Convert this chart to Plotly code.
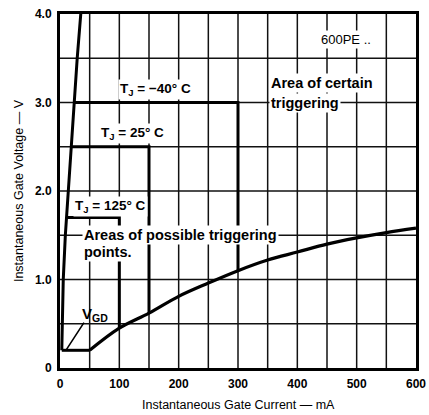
import plotly.graph_objects as go

# ---- axes ----
current_ticks = [0, 100, 200, 300, 400, 500, 600]
current_labels = ["0", "100", "200", "300", "400", "500", "600"]
voltage_ticks = [0, 1.0, 2.0, 3.0, 4.0]
voltage_labels = ["0", "1.0", "2.0", "3.0", "4.0"]
current_grid = [50, 100, 150, 200, 250, 300, 350, 400, 450, 500, 550]
voltage_grid = [0.5, 1.0, 1.5, 2.0, 2.5, 3.0, 3.5]

# ---- V_GD (non-trigger gate voltage) ----
vgd_current = [3, 50]
vgd_voltage = [0.2, 0.2]

# ---- lower boundary of possible triggering ----
min_curve_current = [50, 100, 150, 200, 250, 300, 350, 400, 450, 500, 550, 600]
min_curve_voltage = [0.2, 0.45, 0.62, 0.81, 0.96, 1.10, 1.22, 1.31, 1.40, 1.47, 1.53, 1.58]

# ---- left (steep) boundary ----
left_current = [3, 4, 5.5, 9, 14, 18, 23.5, 29, 35]
left_voltage = [0.2, 0.5, 1.0, 1.5, 2.0, 2.5, 3.0, 3.5, 4.0]

# ---- junction temperature limits ----
tj_names = ["−40°C", "25°C", "125°C"]
tj_gate_voltage = [3.0, 2.5, 1.7]
tj_start_current = [23.5, 18, 12]
tj_max_current = [300, 150, 100]
tj_end_voltage = [1.10, 0.62, 0.45]

FONT = "Liberation Sans"
LINE = dict(color="black", width=3)

fig = go.Figure()

# grid drawn as a thin line trace built from the grid arrays
gx, gy = [], []
for c in current_grid:
    gx += [c, c, None]
    gy += [0, 4, None]
for v in voltage_grid:
    gx += [0, 600, None]
    gy += [v, v, None]
fig.add_trace(go.Scatter(x=gx, y=gy, mode="lines", line=dict(color="#111111", width=1.5),
                         showlegend=False, hoverinfo="skip", connectgaps=False))

fig.add_trace(go.Scatter(x=left_current, y=left_voltage, mode="lines",
                         line=LINE, showlegend=False, hoverinfo="skip"))
fig.add_trace(go.Scatter(x=vgd_current, y=vgd_voltage, mode="lines",
                         line=LINE, showlegend=False, hoverinfo="skip"))
fig.add_trace(go.Scatter(x=min_curve_current, y=min_curve_voltage, mode="lines",
                         line=dict(color="black", width=3.2, shape="spline"),
                         showlegend=False, hoverinfo="skip"))

for name, v, i0, i1, v1 in zip(tj_names, tj_gate_voltage, tj_start_current,
                               tj_max_current, tj_end_voltage):
    fig.add_trace(go.Scatter(x=[i0, i1, i1], y=[v, v, v1], mode="lines",
                             line=LINE, name=name, showlegend=False, hoverinfo="skip"))

def txt(text, x, y, size=12, weight=700, xanchor="center", align="center", bg="white"):
    fig.add_annotation(text=text, x=x, y=y, xref="x", yref="y", showarrow=False,
                       xanchor=xanchor, yanchor="middle", align=align,
                       font=dict(family=FONT, size=size, color="black", weight=weight),
                       bgcolor=bg, borderpad=1)

txt("600PE ..", 482, 3.71, size=13, weight=400)
txt("Area of certain", 353, 3.22, size=14.5, xanchor="left", align="left")
txt("triggering", 353, 2.99, size=14.5, xanchor="left", align="left")
txt("T<sub>J</sub> = −40° C", 161, 3.15, size=13.5)
txt("T<sub>J</sub> = 25° C", 123, 2.65, size=13.5)
txt("T<sub>J</sub> = 125° C", 85, 1.83, size=13.5)
txt("Areas of possible triggering", 37, 1.50, size=14.5, xanchor="left", align="left")
txt("points.", 37, 1.31, size=14.5, xanchor="left", align="left")

# V_GD label with leader line
fig.add_annotation(text="V<sub>GD</sub>", x=59, y=0.60, xref="x", yref="y", showarrow=False,
                   font=dict(family=FONT, size=15, color="black", weight=700))
fig.add_annotation(x=11, y=0.21, ax=42, ay=0.53, xref="x", yref="y", axref="x", ayref="y",
                   text="", showarrow=True, arrowhead=0, arrowwidth=1.6, arrowcolor="black")

# axis titles
fig.add_annotation(text="Instantaneous Gate Current — mA", xref="paper", yref="paper",
                   x=0.5, y=-0.104, xanchor="center", yanchor="middle", showarrow=False,
                   font=dict(family=FONT, size=12.5, color="black", weight=400))
fig.add_annotation(text="Instantaneous Gate Voltage — V", xref="paper", yref="paper",
                   x=-0.115, y=0.5, xanchor="center", yanchor="middle", showarrow=False,
                   textangle=-90,
                   font=dict(family=FONT, size=12.5, color="black", weight=400))

fig.update_xaxes(range=[0, 600], tickvals=current_ticks, ticktext=current_labels,
                 showgrid=False, zeroline=False, automargin=False,
                 showline=True, linecolor="black", linewidth=3, mirror=True,
                 ticks="", ticklabelstandoff=3,
                 tickfont=dict(family=FONT, size=12, color="black", weight=700))
fig.update_yaxes(range=[0, 4], tickvals=voltage_ticks, ticktext=voltage_labels,
                 showgrid=False, zeroline=False, automargin=False,
                 showline=True, linecolor="black", linewidth=3, mirror=True,
                 ticks="", ticklabelstandoff=3,
                 tickfont=dict(family=FONT, size=12, color="black", weight=700))

fig.update_layout(width=429, height=415, margin=dict(l=60, r=13, t=14, b=47, autoexpand=False),
                  paper_bgcolor="white", plot_bgcolor="white", showlegend=False)

fig.write_html("out.html", config={"displayModeBar": False},
               post_script=("document.documentElement.style.margin='0';"
                            "document.documentElement.style.overflow='hidden';"
                            "document.body.style.margin='0';document.body.style.padding='0';"
                            "document.body.style.overflow='hidden';"))
